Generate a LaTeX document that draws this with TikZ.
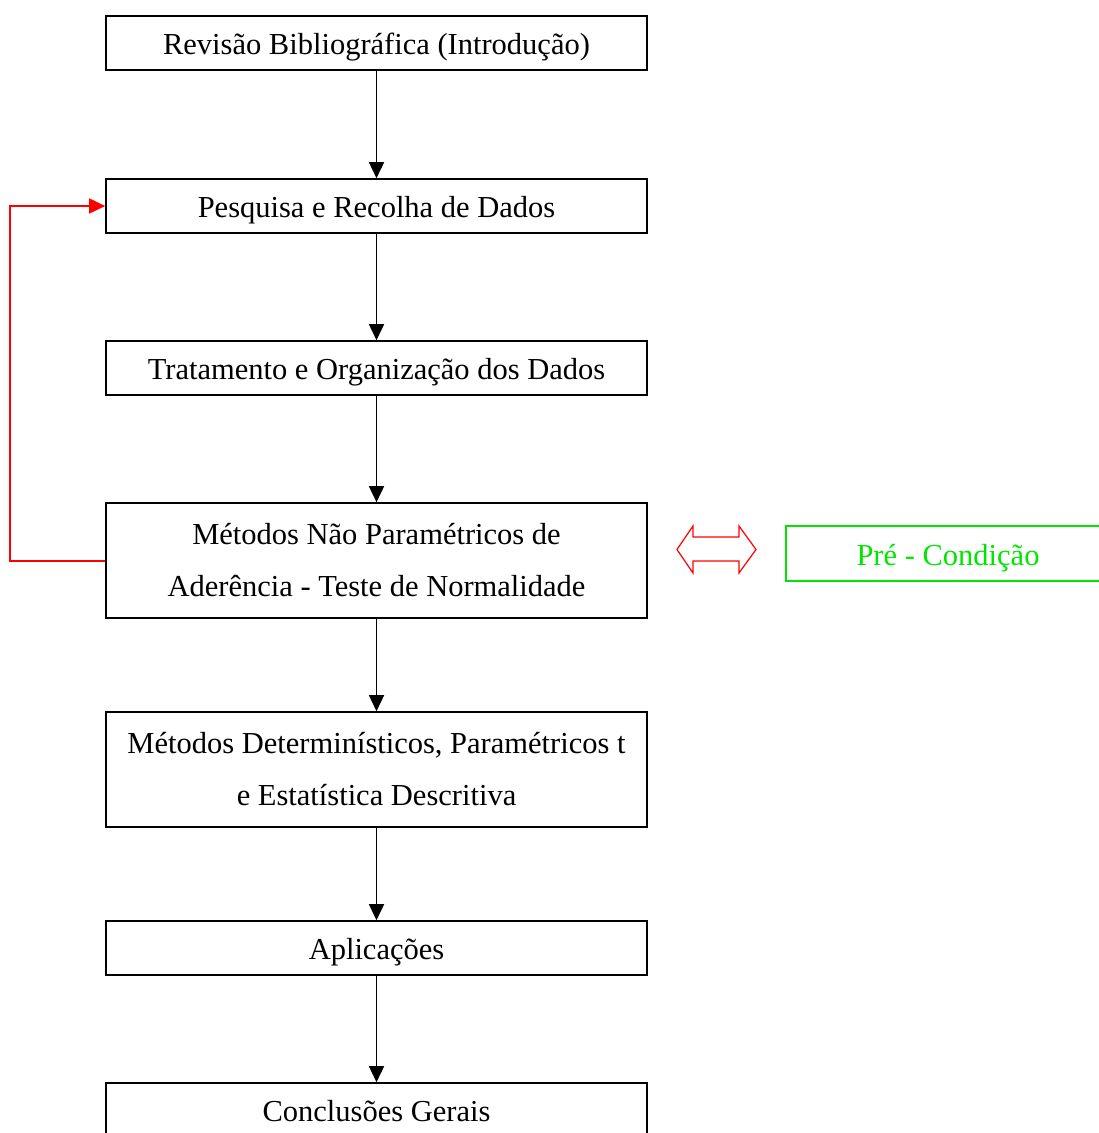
\documentclass[tikz,border=0pt]{standalone}
\usepackage{fontspec}
\setmainfont{Liberation Serif}
\usetikzlibrary{arrows.meta}
\definecolor{pgreen}{RGB}{0,230,0}
\begin{document}
\begin{tikzpicture}[x=1pt,y=-1pt,
  box/.style={draw=black,line width=1.6pt,minimum width=541pt,inner sep=0pt,font=\fontsize{30.5}{52}\selectfont,align=center},
  onel/.style={minimum height=54pt,text height=27pt,text depth=4pt},
  conn/.style={line width=1.6pt,-{Triangle[length=16pt,width=15pt]}},
  loop/.style={draw=red,line width=1.6pt,-{Triangle[length=16pt,width=15pt]}}]
\useasboundingbox (0,0) rectangle (1099,1133);
\node[box,onel] (b1) at (376.5,43) {Revisão Bibliográfica (Introdução)};
\node[box,onel] (b2) at (376.5,206) {Pesquisa e Recolha de Dados};
\node[box,onel] (b3) at (376.5,368) {Tratamento e Organização dos Dados};
\node[box,minimum height=115pt] (b4) at (376.5,560.5) {Métodos Não Paramétricos de\\Aderência - Teste de Normalidade};
\node[box,minimum height=115pt] (b5) at (376.5,769.5) {Métodos Determinísticos, Paramétricos t\\e Estatística Descritiva};
\node[box,onel] (b6) at (376.5,948) {Aplicações};
\node[box,onel] (b7) at (376.5,1110) {Conclusões Gerais};
\draw[conn] (b1) -- (b2);
\draw[conn] (b2) -- (b3);
\draw[conn] (b3) -- (b4);
\draw[conn] (b4) -- (b5);
\draw[conn] (b5) -- (b6);
\draw[conn] (b6) -- (b7);
\coordinate (lx) at (10,0);
\draw[loop] (b4.west |- 0,561) -- (lx |- 0,561) -- (lx |- b2.west) -- (b2.west);
\node[draw=pgreen,line width=1.6pt,minimum width=324pt,minimum height=55pt,inner sep=0pt,
  text height=27pt,text depth=4pt,
  text=pgreen,font=\fontsize{30.5}{32}\selectfont] (pc) at (948,553.5) {Pré - Condição};
\draw[red,line width=1.2pt,line join=miter] (677,549.5) -- (693,526) -- (693,537) -- (739,537) -- (739,526)
  -- (756,549.5) -- (739,573) -- (739,561) -- (693,561) -- (693,573) -- cycle;
\end{tikzpicture}
\end{document}
